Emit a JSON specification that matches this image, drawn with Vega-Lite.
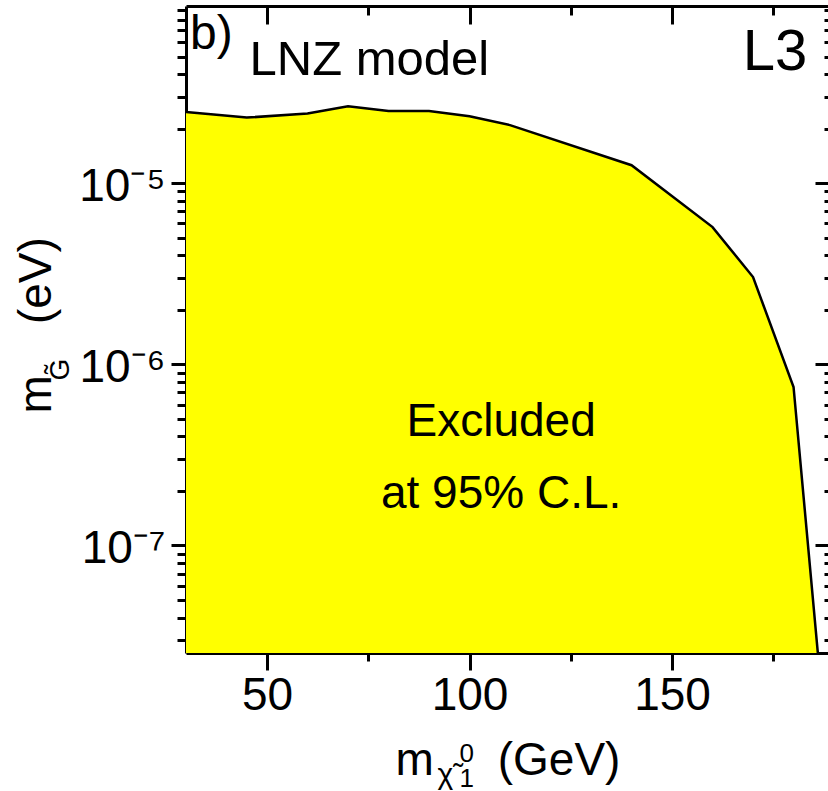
{
  "$schema": "https://vega.github.io/schema/vega-lite/v6.json",
  "width": 644,
  "height": 647,
  "autosize": {"type": "none"},
  "padding": {"left": 186, "top": 6, "right": 0, "bottom": 138},
  "background": "white",
  "config": {
    "view": {"stroke": null},
    "font": "Liberation Sans",
    "axis": {
      "grid": false,
      "domain": true,
      "domainColor": "black",
      "domainWidth": 3,
      "tickColor": "black",
      "tickWidth": 3,
      "labelColor": "black",
      "titleColor": "black",
      "labelFont": "Liberation Sans",
      "titleFont": "Liberation Sans",
      "titleFontWeight": "normal",
      "zindex": 1
    }
  },
  "datasets": {
    "curve": [
      {"m": 30, "g": 2.47e-5},
      {"m": 45, "g": 2.30e-5},
      {"m": 60, "g": 2.42e-5},
      {"m": 70, "g": 2.66e-5},
      {"m": 80, "g": 2.50e-5},
      {"m": 90, "g": 2.50e-5},
      {"m": 100, "g": 2.34e-5},
      {"m": 110, "g": 2.09e-5},
      {"m": 140, "g": 1.256e-5},
      {"m": 160, "g": 5.72e-6},
      {"m": 170, "g": 3.03e-6},
      {"m": 180, "g": 7.5e-7},
      {"m": 186, "g": 2.55e-8}
    ]
  },
  "data": {"name": "curve"},
  "layer": [
    {
      "mark": {"type": "area", "color": "#ffff00", "clip": true},
      "encoding": {
        "x": {
          "field": "m", "type": "quantitative",
          "scale": {"domain": [30, 189], "nice": false, "zero": false},
          "axis": {
            "orient": "bottom", "values": [50, 100, 150], "tickSize": 17,
            "labelFontSize": 46, "labelPadding": 3, "labelFlush": false,
            "title": "m\u00a0\u00a0\u00a0\u00a0\u00a0(GeV)", "titleFontSize": 46,
            "titleX": 209, "titleY": 121, "titleAlign": "left", "titleBaseline": "alphabetic"
          }
        },
        "y": {
          "field": "g", "type": "quantitative",
          "scale": {"type": "log", "domain": [2.55e-8, 9.5e-5], "nice": false},
          "axis": {
            "orient": "left", "values": [1e-7, 1e-6, 1e-5], "tickSize": 15,
            "labelFontSize": 46, "labelPadding": 6, "labelOffset": 3, "labelFlush": false,
            "labelExpr": "datum.value < 5e-7 ? '10\u207b\u2077' : datum.value < 5e-6 ? '10\u207b\u2076' : '10\u207b\u2075'",
            "title": "m\u00a0\u00a0\u00a0\u00a0(eV)", "titleFontSize": 46, "titleAngle": -90,
            "titleX": -136, "titleY": 407, "titleAlign": "left", "titleBaseline": "alphabetic"
          }
        },
        "y2": {"datum": 2.55e-8}
      }
    },
    {
      "mark": {"type": "line", "color": "black", "strokeWidth": 2.5, "clip": true},
      "encoding": {
        "x": {
          "field": "m", "type": "quantitative",
          "axis": {
            "orient": "bottom", "values": [75, 125, 175], "tickSize": 8, "labels": false, "domain": false,
            "title": "\u03c7\u0303", "titleFontSize": 30,
            "titleX": 251, "titleY": 130, "titleAlign": "left", "titleBaseline": "alphabetic"
          }
        },
        "y": {
          "field": "g", "type": "quantitative",
          "axis": {
            "orient": "left",
            "values": [3e-8, 4e-8, 5e-8, 6e-8, 7e-8, 8e-8, 9e-8, 2e-7, 3e-7, 4e-7, 5e-7, 6e-7, 7e-7, 8e-7, 9e-7, 2e-6, 3e-6, 4e-6, 5e-6, 6e-6, 7e-6, 8e-6, 9e-6, 2e-5, 3e-5, 4e-5, 5e-5, 6e-5, 7e-5, 8e-5, 9e-5],
            "tickSize": 9, "labels": false, "domain": false,
            "title": "G\u0303", "titleFontSize": 28, "titleAngle": -90,
            "titleX": -118, "titleY": 374, "titleAlign": "left", "titleBaseline": "alphabetic"
          }
        }
      }
    },
    {
      "mark": {"type": "line", "opacity": 0},
      "encoding": {
        "x": {
          "field": "m", "type": "quantitative",
          "axis": {
            "orient": "top", "values": [50, 100, 150], "tickSize": -18, "labels": false,
            "title": "1", "titleFontSize": 26,
            "titleX": 273, "titleY": 780, "titleAlign": "left", "titleBaseline": "alphabetic"
          }
        },
        "y": {
          "field": "g", "type": "quantitative",
          "axis": {
            "orient": "right", "values": [1e-7, 1e-6, 1e-5], "tickSize": -15, "labels": false, "title": null
          }
        }
      }
    },
    {
      "mark": {"type": "line", "opacity": 0},
      "encoding": {
        "x": {
          "field": "m", "type": "quantitative",
          "axis": {
            "orient": "top", "values": [75, 125, 175], "tickSize": -9, "labels": false, "domain": false,
            "title": "0", "titleFontSize": 26,
            "titleX": 273, "titleY": 755, "titleAlign": "left", "titleBaseline": "alphabetic"
          }
        },
        "y": {
          "field": "g", "type": "quantitative",
          "axis": {
            "orient": "right",
            "values": [3e-8, 4e-8, 5e-8, 6e-8, 7e-8, 8e-8, 9e-8, 2e-7, 3e-7, 4e-7, 5e-7, 6e-7, 7e-7, 8e-7, 9e-7, 2e-6, 3e-6, 4e-6, 5e-6, 6e-6, 7e-6, 8e-6, 9e-6, 2e-5, 3e-5, 4e-5, 5e-5, 6e-5, 7e-5, 8e-5, 9e-5],
            "tickSize": -6, "labels": false, "domain": false, "title": null
          }
        }
      }
    },
    {
      "data": {"values": [{"t": "b)"}]},
      "mark": {"type": "text", "fontSize": 48, "align": "left", "baseline": "alphabetic", "color": "black"},
      "encoding": {
        "text": {"field": "t"},
        "x": {"datum": 31.0, "type": "quantitative", "axis": null},
        "y": {"datum": 5.5e-5, "type": "quantitative", "axis": null}
      }
    },
    {
      "data": {"values": [{"t": "LNZ model"}]},
      "mark": {"type": "text", "fontSize": 49, "align": "left", "baseline": "alphabetic", "color": "black"},
      "encoding": {
        "text": {"field": "t"},
        "x": {"datum": 45.7, "type": "quantitative", "axis": null},
        "y": {"datum": 3.94e-5, "type": "quantitative", "axis": null}
      }
    },
    {
      "data": {"values": [{"t": "L3"}]},
      "mark": {"type": "text", "fontSize": 58, "align": "right", "baseline": "alphabetic", "color": "black"},
      "encoding": {
        "text": {"field": "t"},
        "x": {"datum": 183.4, "type": "quantitative", "axis": null},
        "y": {"datum": 4.2e-5, "type": "quantitative", "axis": null}
      }
    },
    {
      "data": {"values": [{"t": "Excluded"}]},
      "mark": {"type": "text", "fontSize": 46, "align": "center", "baseline": "alphabetic", "color": "black"},
      "encoding": {
        "text": {"field": "t"},
        "x": {"datum": 107.8, "type": "quantitative", "axis": null},
        "y": {"datum": 4.04e-7, "type": "quantitative", "axis": null}
      }
    },
    {
      "data": {"values": [{"t": "at 95% C.L."}]},
      "mark": {"type": "text", "fontSize": 46, "align": "center", "baseline": "alphabetic", "color": "black"},
      "encoding": {
        "text": {"field": "t"},
        "x": {"datum": 107.8, "type": "quantitative", "axis": null},
        "y": {"datum": 1.62e-7, "type": "quantitative", "axis": null}
      }
    }
  ],
  "resolve": {"axis": {"x": "independent", "y": "independent"}}
}
